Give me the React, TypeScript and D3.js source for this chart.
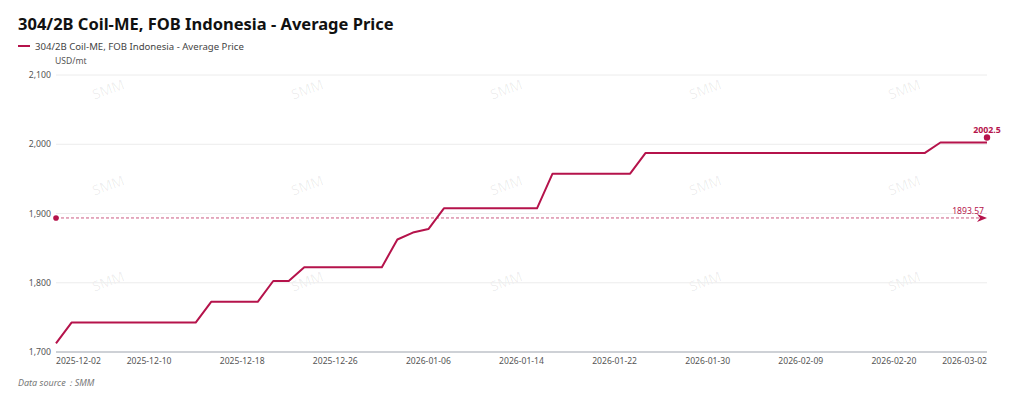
import React from "react";
import * as d3 from "d3";

const dates = [
  "2025-12-02", "2025-12-03", "2025-12-04", "2025-12-05", "2025-12-08", "2025-12-09", "2025-12-10",
  "2025-12-11", "2025-12-12", "2025-12-15", "2025-12-16", "2025-12-17", "2025-12-18", "2025-12-19",
  "2025-12-22", "2025-12-23", "2025-12-24", "2025-12-25", "2025-12-26", "2025-12-29", "2025-12-30",
  "2025-12-31", "2026-01-02", "2026-01-05", "2026-01-06", "2026-01-07", "2026-01-08", "2026-01-09",
  "2026-01-12", "2026-01-13", "2026-01-14", "2026-01-15", "2026-01-16", "2026-01-19", "2026-01-20",
  "2026-01-21", "2026-01-22", "2026-01-23", "2026-01-26", "2026-01-27", "2026-01-28", "2026-01-29",
  "2026-01-30", "2026-02-02", "2026-02-03", "2026-02-04", "2026-02-05", "2026-02-06", "2026-02-09",
  "2026-02-10", "2026-02-11", "2026-02-12", "2026-02-13", "2026-02-19", "2026-02-20", "2026-02-23",
  "2026-02-24", "2026-02-25", "2026-02-26", "2026-02-27", "2026-03-02",
];

const prices = [
  1712.5, 1742.5, 1742.5, 1742.5, 1742.5, 1742.5, 1742.5, 1742.5, 1742.5, 1742.5,
  1772.5, 1772.5, 1772.5, 1772.5, 1802.5, 1802.5, 1822.5, 1822.5, 1822.5, 1822.5,
  1822.5, 1822.5, 1862.5, 1872.5, 1877.5, 1907.5, 1907.5, 1907.5, 1907.5, 1907.5,
  1907.5, 1907.5, 1957.5, 1957.5, 1957.5, 1957.5, 1957.5, 1957.5, 1987.5, 1987.5,
  1987.5, 1987.5, 1987.5, 1987.5, 1987.5, 1987.5, 1987.5, 1987.5, 1987.5, 1987.5,
  1987.5, 1987.5, 1987.5, 1987.5, 1987.5, 1987.5, 1987.5, 2002.5, 2002.5, 2002.5,
  2002.5,
];

const xTickLabels = [
  "2025-12-02", "2025-12-10", "2025-12-18", "2025-12-26", "2026-01-06", "2026-01-14",
  "2026-01-22", "2026-01-30", "2026-02-09", "2026-02-20", "2026-03-02",
];

const yTicks = [1700, 1800, 1900, 2000, 2100];

const title = "304/2B Coil-ME, FOB Indonesia - Average Price";
const unit = "USD/mt";
const source = "Data source：SMM";

const RED = "#b5134b";
const FONT = "'Noto Sans', 'Open Sans', sans-serif";

export default function App() {
  const width = 1024;
  const height = 399;
  const left = 56, right = 987, top = 75, bottom = 352;

  const x = d3.scalePoint<string>().domain(dates).range([left, right]);
  const y = d3.scaleLinear().domain([1700, 2100]).range([bottom, top]);

  const data = dates.map((d, i) => ({ date: d, v: prices[i] }));
  const line = d3.line<{ date: string; v: number }>()
    .x((d) => x(d.date)!)
    .y((d) => y(d.v));

  const avg = d3.mean(prices)!;
  const avgY = y(avg);
  const last = data[data.length - 1];
  const fmt = d3.format(",");

  const marks: [number, number][] = [];
  for (let r = 0; r < 3; r++) {
    for (let c = 0; c < 5; c++) marks.push([110 + c * 199, 94 + r * 96]);
  }

  return (
    <svg width={width} height={height} style={{ position: "absolute", left: 0, top: 0 }} fontFamily={FONT}>
      <rect width={width} height={height} fill="#fff" />
      <text x={18} y={30} fontSize={16.5} fontWeight="bold" fill="#111">{title}</text>
      <line x1={18} x2={30} y1={46} y2={46} stroke={RED} strokeWidth={2} />
      <text x={35} y={49.5} fontSize={9.6} fill="#444">{title}</text>
      <text x={55} y={64} fontSize={8.6} fill="#555">{unit}</text>

      {marks.map(([mx, my], i) => (
        <text key={i} x={mx} y={my} fontSize={14} fill="#000" fillOpacity={0.07}
          textAnchor="middle" transform={`rotate(-20 ${mx} ${my})`}>SMM</text>
      ))}

      {yTicks.map((t) => (
        <g key={t}>
          {t !== 1700 && <line x1={left} x2={right} y1={y(t)} y2={y(t)} stroke="#ececec" />}
          <text x={51} y={y(t) + 3} fontSize={8.7} fill="#555" textAnchor="end">{fmt(t)}</text>
        </g>
      ))}
      <line x1={left} x2={right} y1={bottom} y2={bottom} stroke="#9ea3ad" strokeWidth={1.2} />

      {xTickLabels.map((d, i) => (
        <text key={d} x={x(d)} y={364} fontSize={8.6} fill="#555"
          textAnchor={i === 0 ? "start" : i === xTickLabels.length - 1 ? "end" : "middle"}>{d}</text>
      ))}

      <line x1={left} x2={right - 8} y1={avgY} y2={avgY} stroke={RED} strokeOpacity={0.7}
        strokeWidth={1} strokeDasharray="3,2" />
      <circle cx={left} cy={avgY} r={2.8} fill={RED} />
      <path d={`M${right - 10},${avgY - 4} L${right},${avgY} L${right - 10},${avgY + 4} L${right - 7},${avgY} Z`} fill={RED} />
      <text x={right - 3} y={avgY - 4} fontSize={8.6} fill={RED} textAnchor="end">{avg.toFixed(2)}</text>

      <path d={line(data)!} fill="none" stroke={RED} strokeWidth={2} strokeLinejoin="round" />

      <circle cx={x(last.date)} cy={y(last.v) - 5} r={3.2} fill={RED} />
      <text x={x(last.date)} y={y(last.v) - 10} fontSize={8.8} fontWeight="bold" fill={RED} textAnchor="middle">{last.v}</text>

      <text x={18} y={386} fontSize={9} fontStyle="italic" fill="#777">{source}</text>
    </svg>
  );
}
